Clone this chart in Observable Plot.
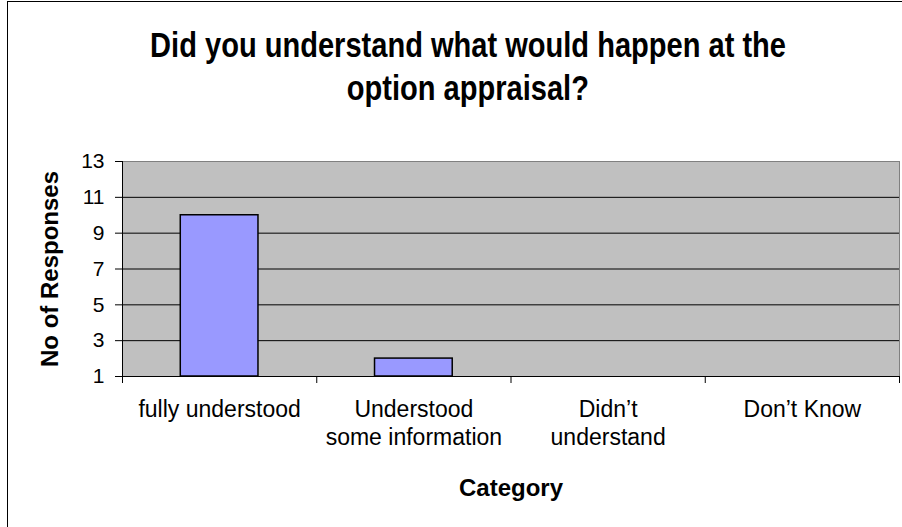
<!DOCTYPE html>
<html>
<head>
<meta charset="utf-8">
<script src="https://cdn.jsdelivr.net/npm/d3@7"></script>
<script src="https://cdn.jsdelivr.net/npm/@observablehq/plot@0.6"></script>
<style>
  body { margin: 0; background: #fff; }
  #chart { position: relative; width: 902px; height: 527px; overflow: hidden; font-family: "Liberation Sans", Arial, sans-serif; }
  #frame { position: absolute; left: 7px; top: 1px; width: 1000px; height: 1000px; border-left: 1.5px solid #000; border-top: 1.5px solid #000; box-sizing: border-box; }
  #plot { position: absolute; left: 0; top: 0; }
  .tline { position: absolute; left: 0; width: 936px; text-align: center; font-weight: bold; font-size: 35px; line-height: 43px; color: #000; white-space: nowrap; }
  .tline span { display: inline-block; transform: scaleX(0.83); transform-origin: center; }
</style>
</head>
<body>
<div id="chart">
  <div id="frame"></div>
  <div id="plot"></div>
  <div id="title"></div>
</div>
<script>
const titleLines = ["Did you understand what would happen at the", "option appraisal?"];
const categories = ["fully understood", "Understood\nsome information", "Didn’t\nunderstand", "Don’t Know"];
const responses = [10, 2, 0, 0];
const yTicks = [1, 3, 5, 7, 9, 11, 13];
const gridLines = [3, 5, 7, 9, 11];
const yDomain = [1, 13];
const yTitle = "No of Responses";
const xTitle = "Category";

const data = categories.map((c, i) => ({i, category: c, value: responses[i]}));
const centers = categories.map((c, i) => i + 0.5);
const bounds = d3.range(categories.length + 1);

const titleEl = document.getElementById("title");
titleLines.forEach((t, k) => {
  const div = document.createElement("div");
  div.className = "tline";
  div.style.top = (23 + k * 43) + "px";
  const span = document.createElement("span");
  span.textContent = t;
  div.appendChild(span);
  titleEl.appendChild(div);
});

const chart = Plot.plot({
  width: 902,
  height: 527,
  marginTop: 161,
  marginBottom: 151,
  marginLeft: 122,
  marginRight: 3,
  style: {fontFamily: "'Liberation Sans', Arial, sans-serif", background: "transparent", color: "#000"},
  x: {domain: [0, categories.length]},
  y: {domain: yDomain},
  marks: [
    Plot.frame({fill: "#c0c0c0", stroke: "#808080"}),
    Plot.ruleY(gridLines, {stroke: "#000", strokeWidth: 1}),
    Plot.rectY(data.filter(d => d.value > yDomain[0]), {
      x1: d => d.i + 0.3, x2: d => d.i + 0.7, y1: yDomain[0], y2: "value",
      fill: "#9999ff", stroke: "#000", strokeWidth: 1.5
    }),
    Plot.ruleX([0], {stroke: "#000"}),
    Plot.ruleY([yDomain[0]], {stroke: "#000"}),
    Plot.axisY({ticks: yTicks, tickSize: 7, tickPadding: 11, fontSize: 21, label: null, tickFormat: d => String(d)}),
    Plot.axisX({ticks: bounds, tickSize: 7, tickFormat: () => "", label: null}),
    Plot.axisX({ticks: centers, tickSize: 0, tickPadding: 21, fontSize: 23, lineHeight: 1.2, label: null,
      tickFormat: d => categories[Math.round(d - 0.5)]}),
    Plot.text([yTitle], {text: d => d, frameAnchor: "left", textAnchor: "middle", rotate: -90, dx: -72, lineAnchor: "middle", fontSize: 24, fontWeight: "bold"}),
    Plot.text([xTitle], {text: d => d, frameAnchor: "bottom", dy: 119, lineAnchor: "bottom", fontSize: 24, fontWeight: "bold"})
  ]
});
document.getElementById("plot").appendChild(chart);
</script>
</body>
</html>
